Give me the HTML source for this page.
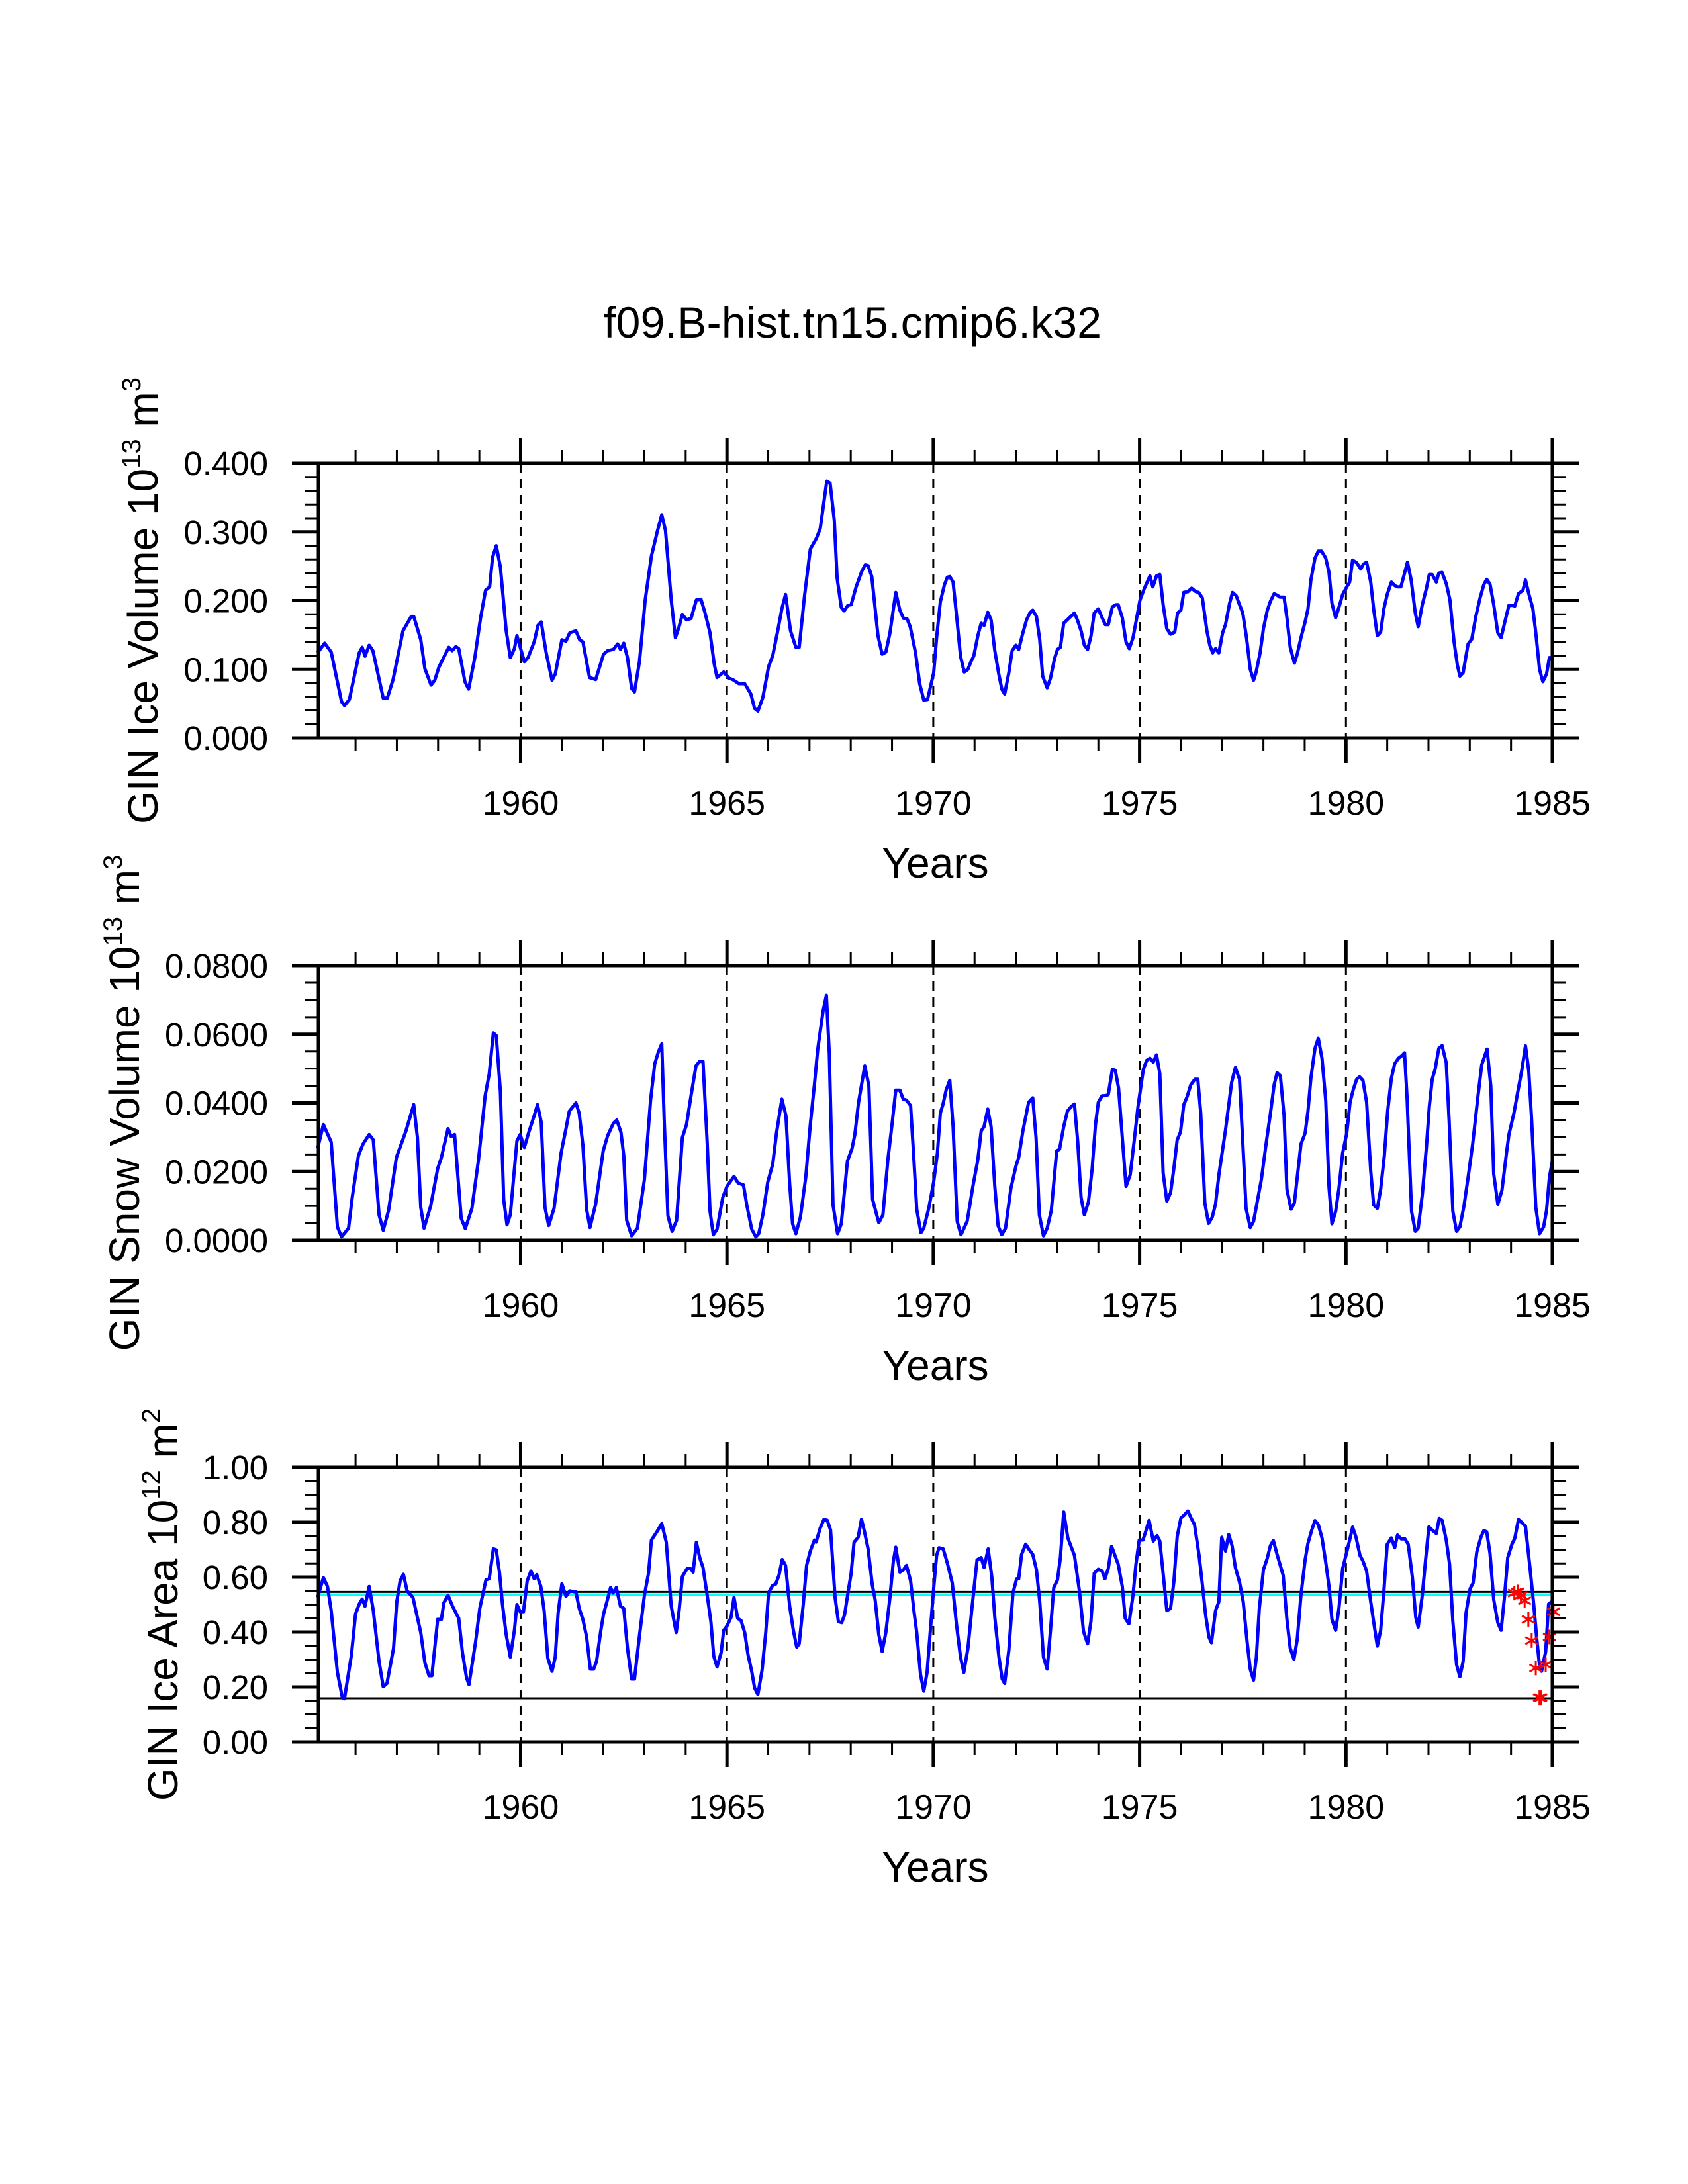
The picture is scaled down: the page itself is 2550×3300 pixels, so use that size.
<!DOCTYPE html>
<html><head><meta charset="utf-8">
<style>
html,body{margin:0;padding:0;background:#fff;}
svg{display:block;font-family:"Liberation Sans",Arial,sans-serif;}
</style></head>
<body>
<svg id="chart" width="2550" height="3300" viewBox="0 0 2550 3300" xmlns="http://www.w3.org/2000/svg">
<rect x="0" y="0" width="2550" height="3300" fill="#fff"/>
<text x="1288" y="510" font-size="66" text-anchor="middle" textLength="752">f09.B-hist.tn15.cmip6.k32</text>
</svg>
<script>
// ---- data (year, value) ----
const iceVolume = [[1955.08,0.124],[1955.25,0.138],[1955.41,0.125],[1955.66,0.053],[1955.73,0.047],[1955.85,0.056],[1956.09,0.124],[1956.16,0.132],[1956.23,0.119],[1956.33,0.135],[1956.42,0.127],[1956.67,0.058],[1956.77,0.058],[1956.91,0.085],[1957.15,0.156],[1957.35,0.177],[1957.41,0.177],[1957.58,0.143],[1957.68,0.101],[1957.83,0.077],[1957.92,0.084],[1958.02,0.103],[1958.26,0.132],[1958.34,0.127],[1958.43,0.133],[1958.50,0.130],[1958.65,0.082],[1958.74,0.071],[1958.89,0.117],[1959.03,0.175],[1959.15,0.215],[1959.25,0.220],[1959.32,0.263],[1959.41,0.280],[1959.51,0.249],[1959.65,0.156],[1959.75,0.117],[1959.85,0.130],[1959.91,0.149],[1960.09,0.111],[1960.18,0.117],[1960.33,0.140],[1960.42,0.164],[1960.50,0.169],[1960.62,0.124],[1960.76,0.084],[1960.84,0.093],[1961.00,0.143],[1961.10,0.141],[1961.19,0.153],[1961.34,0.156],[1961.43,0.143],[1961.51,0.140],[1961.67,0.088],[1961.82,0.085],[1962.01,0.122],[1962.11,0.127],[1962.25,0.129],[1962.35,0.137],[1962.42,0.129],[1962.50,0.138],[1962.59,0.117],[1962.69,0.072],[1962.76,0.067],[1962.88,0.111],[1963.02,0.201],[1963.17,0.265],[1963.31,0.300],[1963.42,0.325],[1963.51,0.302],[1963.65,0.201],[1963.75,0.146],[1963.84,0.162],[1963.92,0.180],[1964.02,0.172],[1964.13,0.174],[1964.26,0.201],[1964.37,0.202],[1964.47,0.182],[1964.59,0.153],[1964.69,0.108],[1964.76,0.088],[1964.92,0.096],[1965.05,0.087],[1965.14,0.085],[1965.29,0.079],[1965.43,0.079],[1965.58,0.064],[1965.67,0.043],[1965.75,0.039],[1965.87,0.059],[1966.01,0.104],[1966.11,0.120],[1966.25,0.162],[1966.33,0.188],[1966.42,0.209],[1966.54,0.156],[1966.67,0.132],[1966.75,0.132],[1966.88,0.207],[1967.02,0.275],[1967.17,0.291],[1967.26,0.305],[1967.42,0.374],[1967.50,0.371],[1967.60,0.317],[1967.67,0.233],[1967.77,0.190],[1967.84,0.185],[1967.93,0.193],[1968.01,0.194],[1968.13,0.220],[1968.27,0.243],[1968.35,0.252],[1968.42,0.251],[1968.51,0.235],[1968.66,0.149],[1968.76,0.122],[1968.85,0.125],[1968.95,0.153],[1969.09,0.212],[1969.19,0.186],[1969.28,0.174],[1969.36,0.174],[1969.44,0.162],[1969.57,0.124],[1969.67,0.079],[1969.77,0.055],[1969.86,0.056],[1970.01,0.095],[1970.08,0.146],[1970.17,0.198],[1970.27,0.223],[1970.34,0.234],[1970.40,0.235],[1970.48,0.227],[1970.58,0.169],[1970.66,0.119],[1970.75,0.096],[1970.84,0.100],[1970.92,0.112],[1970.98,0.119],[1971.08,0.149],[1971.16,0.167],[1971.23,0.164],[1971.32,0.183],[1971.40,0.172],[1971.49,0.127],[1971.59,0.092],[1971.66,0.071],[1971.73,0.064],[1971.83,0.095],[1971.91,0.127],[1972.00,0.135],[1972.07,0.129],[1972.17,0.153],[1972.26,0.172],[1972.34,0.182],[1972.41,0.186],[1972.50,0.177],[1972.58,0.143],[1972.65,0.090],[1972.76,0.073],[1972.84,0.087],[1972.94,0.116],[1973.01,0.129],[1973.08,0.132],[1973.16,0.167],[1973.28,0.174],[1973.42,0.182],[1973.49,0.172],[1973.58,0.156],[1973.66,0.135],[1973.74,0.129],[1973.82,0.148],[1973.90,0.182],[1974.00,0.188],[1974.09,0.175],[1974.17,0.165],[1974.24,0.165],[1974.34,0.191],[1974.43,0.194],[1974.48,0.194],[1974.58,0.175],[1974.67,0.140],[1974.75,0.130],[1974.84,0.146],[1974.93,0.175],[1975.01,0.201],[1975.11,0.217],[1975.25,0.236],[1975.32,0.220],[1975.41,0.236],[1975.49,0.238],[1975.57,0.194],[1975.66,0.159],[1975.75,0.151],[1975.85,0.154],[1975.92,0.182],[1976.00,0.186],[1976.07,0.212],[1976.17,0.213],[1976.26,0.218],[1976.36,0.213],[1976.43,0.212],[1976.52,0.204],[1976.63,0.156],[1976.70,0.135],[1976.77,0.124],[1976.84,0.130],[1976.92,0.124],[1977.01,0.153],[1977.08,0.165],[1977.18,0.196],[1977.25,0.212],[1977.34,0.207],[1977.42,0.194],[1977.50,0.182],[1977.59,0.146],[1977.68,0.100],[1977.76,0.084],[1977.82,0.095],[1977.92,0.124],[1978.00,0.159],[1978.09,0.185],[1978.17,0.199],[1978.26,0.210],[1978.33,0.208],[1978.40,0.205],[1978.50,0.205],[1978.57,0.175],[1978.65,0.132],[1978.75,0.109],[1978.82,0.122],[1978.91,0.146],[1979.01,0.169],[1979.08,0.188],[1979.15,0.230],[1979.25,0.262],[1979.33,0.272],[1979.41,0.272],[1979.51,0.262],[1979.59,0.241],[1979.66,0.196],[1979.75,0.175],[1979.85,0.194],[1979.92,0.209],[1980.02,0.220],[1980.09,0.227],[1980.16,0.259],[1980.26,0.255],[1980.36,0.246],[1980.42,0.253],[1980.50,0.256],[1980.60,0.227],[1980.67,0.188],[1980.76,0.149],[1980.84,0.154],[1980.92,0.188],[1981.00,0.209],[1981.10,0.227],[1981.18,0.222],[1981.25,0.220],[1981.33,0.220],[1981.39,0.233],[1981.49,0.256],[1981.58,0.230],[1981.68,0.182],[1981.75,0.162],[1981.85,0.194],[1981.95,0.218],[1982.02,0.238],[1982.09,0.238],[1982.19,0.227],[1982.25,0.240],[1982.33,0.241],[1982.43,0.225],[1982.52,0.201],[1982.62,0.140],[1982.70,0.106],[1982.76,0.090],[1982.84,0.095],[1982.96,0.137],[1983.05,0.144],[1983.15,0.178],[1983.25,0.204],[1983.34,0.223],[1983.41,0.231],[1983.49,0.224],[1983.58,0.194],[1983.68,0.153],[1983.76,0.146],[1983.85,0.169],[1983.95,0.193],[1984.04,0.193],[1984.09,0.192],[1984.18,0.210],[1984.29,0.215],[1984.35,0.230],[1984.43,0.210],[1984.53,0.188],[1984.60,0.153],[1984.69,0.100],[1984.77,0.082],[1984.86,0.093],[1984.93,0.117],[1985.0,0.117]];

const snowVolume = [[1955.08,0.0267],[1955.22,0.0337],[1955.41,0.0286],[1955.56,0.0039],[1955.66,0.0010],[1955.83,0.0035],[1955.92,0.0125],[1956.07,0.0247],[1956.18,0.0280],[1956.33,0.0308],[1956.43,0.0292],[1956.57,0.0074],[1956.67,0.0029],[1956.80,0.0087],[1956.99,0.0241],[1957.22,0.0318],[1957.41,0.0395],[1957.50,0.0299],[1957.58,0.0096],[1957.66,0.0035],[1957.82,0.0100],[1957.99,0.0209],[1958.08,0.0241],[1958.24,0.0325],[1958.32,0.0302],[1958.40,0.0308],[1958.56,0.0064],[1958.66,0.0034],[1958.82,0.0093],[1958.98,0.0235],[1959.14,0.0421],[1959.24,0.0485],[1959.34,0.0604],[1959.41,0.0596],[1959.51,0.0434],[1959.59,0.0119],[1959.67,0.0045],[1959.75,0.0074],[1959.91,0.0289],[1959.99,0.0308],[1960.09,0.0270],[1960.20,0.0315],[1960.33,0.0363],[1960.41,0.0395],[1960.50,0.0344],[1960.59,0.0096],[1960.68,0.0043],[1960.81,0.0093],[1960.98,0.0254],[1961.10,0.0325],[1961.18,0.0376],[1961.34,0.0400],[1961.42,0.0370],[1961.51,0.0276],[1961.60,0.0090],[1961.68,0.0037],[1961.82,0.0106],[1962.00,0.0260],[1962.11,0.0305],[1962.25,0.0341],[1962.33,0.0350],[1962.43,0.0315],[1962.50,0.0247],[1962.57,0.0058],[1962.69,0.0013],[1962.83,0.0035],[1963.00,0.0177],[1963.15,0.0408],[1963.25,0.0514],[1963.34,0.0549],[1963.42,0.0572],[1963.48,0.0350],[1963.57,0.0071],[1963.67,0.0026],[1963.78,0.0058],[1963.92,0.0299],[1964.02,0.0337],[1964.13,0.0421],[1964.25,0.0508],[1964.34,0.0521],[1964.42,0.0521],[1964.52,0.0286],[1964.59,0.0084],[1964.67,0.0016],[1964.76,0.0032],[1964.90,0.0125],[1965.00,0.0157],[1965.17,0.0186],[1965.27,0.0167],[1965.40,0.0161],[1965.48,0.0103],[1965.60,0.0032],[1965.70,0.0010],[1965.77,0.0019],[1965.87,0.0074],[1965.99,0.0170],[1966.11,0.0222],[1966.20,0.0312],[1966.33,0.0411],[1966.43,0.0363],[1966.52,0.0164],[1966.59,0.0048],[1966.67,0.0019],[1966.78,0.0067],[1966.91,0.0183],[1967.02,0.0337],[1967.12,0.0453],[1967.20,0.0556],[1967.33,0.0668],[1967.41,0.0713],[1967.48,0.0543],[1967.57,0.0103],[1967.68,0.0019],[1967.77,0.0048],[1967.92,0.0231],[1968.03,0.0267],[1968.10,0.0308],[1968.19,0.0402],[1968.34,0.0508],[1968.44,0.0450],[1968.53,0.0119],[1968.68,0.0051],[1968.78,0.0074],[1968.90,0.0235],[1969.00,0.0337],[1969.09,0.0437],[1969.19,0.0437],[1969.27,0.0411],[1969.35,0.0408],[1969.45,0.0392],[1969.53,0.0235],[1969.60,0.0090],[1969.70,0.0022],[1969.77,0.0035],[1969.89,0.0093],[1970.01,0.0170],[1970.10,0.0254],[1970.17,0.0370],[1970.24,0.0398],[1970.31,0.0437],[1970.40,0.0466],[1970.48,0.0331],[1970.58,0.0055],[1970.67,0.0016],[1970.82,0.0055],[1970.96,0.0157],[1971.08,0.0235],[1971.16,0.0318],[1971.23,0.0331],[1971.32,0.0382],[1971.40,0.0331],[1971.49,0.0157],[1971.57,0.0042],[1971.66,0.0016],[1971.75,0.0035],[1971.88,0.0151],[1972.00,0.0215],[1972.07,0.0241],[1972.17,0.0318],[1972.31,0.0402],[1972.41,0.0415],[1972.49,0.0299],[1972.57,0.0074],[1972.67,0.0013],[1972.76,0.0035],[1972.86,0.0087],[1972.99,0.0260],[1973.06,0.0265],[1973.16,0.0331],[1973.25,0.0376],[1973.34,0.0389],[1973.42,0.0397],[1973.50,0.0286],[1973.58,0.0125],[1973.66,0.0074],[1973.76,0.0112],[1973.85,0.0209],[1973.93,0.0337],[1974.00,0.0402],[1974.09,0.0421],[1974.17,0.0421],[1974.24,0.0424],[1974.34,0.0498],[1974.41,0.0495],[1974.49,0.0443],[1974.58,0.0299],[1974.67,0.0157],[1974.77,0.0190],[1974.87,0.0292],[1974.96,0.0389],[1975.09,0.0498],[1975.17,0.0524],[1975.25,0.0530],[1975.33,0.0519],[1975.41,0.0540],[1975.49,0.0485],[1975.57,0.0196],[1975.66,0.0114],[1975.75,0.0138],[1975.83,0.0209],[1975.91,0.0292],[1975.99,0.0315],[1976.07,0.0395],[1976.15,0.0418],[1976.24,0.0453],[1976.34,0.0469],[1976.41,0.0469],[1976.48,0.0370],[1976.58,0.0109],[1976.67,0.0049],[1976.76,0.0067],[1976.84,0.0106],[1976.92,0.0190],[1977.08,0.0321],[1977.23,0.0460],[1977.32,0.0503],[1977.42,0.0469],[1977.50,0.0286],[1977.58,0.0093],[1977.68,0.0037],[1977.76,0.0055],[1977.82,0.0093],[1977.95,0.0177],[1978.07,0.0286],[1978.17,0.0370],[1978.26,0.0453],[1978.33,0.0488],[1978.41,0.0479],[1978.50,0.0363],[1978.57,0.0148],[1978.67,0.0090],[1978.75,0.0109],[1978.82,0.0183],[1978.91,0.0280],[1979.01,0.0312],[1979.08,0.0376],[1979.15,0.0472],[1979.25,0.0559],[1979.33,0.0588],[1979.42,0.0530],[1979.51,0.0408],[1979.59,0.0154],[1979.66,0.0048],[1979.75,0.0084],[1979.83,0.0151],[1979.92,0.0254],[1980.02,0.0312],[1980.10,0.0402],[1980.18,0.0440],[1980.26,0.0469],[1980.33,0.0476],[1980.41,0.0466],[1980.50,0.0402],[1980.60,0.0202],[1980.67,0.0103],[1980.76,0.0093],[1980.84,0.0148],[1980.93,0.0247],[1981.01,0.0376],[1981.10,0.0472],[1981.18,0.0514],[1981.27,0.0530],[1981.35,0.0537],[1981.42,0.0546],[1981.48,0.0415],[1981.59,0.0084],[1981.68,0.0026],[1981.75,0.0035],[1981.85,0.0132],[1981.95,0.0273],[1982.02,0.0389],[1982.09,0.0469],[1982.16,0.0498],[1982.25,0.0559],[1982.33,0.0567],[1982.43,0.0517],[1982.50,0.0350],[1982.59,0.0084],[1982.68,0.0026],[1982.76,0.0039],[1982.86,0.0100],[1982.96,0.0183],[1983.07,0.0280],[1983.20,0.0421],[1983.29,0.0511],[1983.42,0.0557],[1983.51,0.0450],[1983.58,0.0193],[1983.68,0.0105],[1983.78,0.0145],[1983.89,0.0254],[1983.95,0.0308],[1984.07,0.0370],[1984.18,0.0443],[1984.26,0.0495],[1984.35,0.0566],[1984.43,0.0492],[1984.50,0.0350],[1984.60,0.0096],[1984.69,0.0019],[1984.79,0.0039],[1984.86,0.0087],[1984.93,0.0183],[1985.0,0.0230]];

const iceArea = [[1955.08,0.526],[1955.22,0.598],[1955.32,0.566],[1955.41,0.478],[1955.56,0.253],[1955.68,0.161],[1955.73,0.157],[1955.90,0.317],[1956.00,0.466],[1956.09,0.502],[1956.16,0.520],[1956.23,0.494],[1956.33,0.566],[1956.43,0.478],[1956.57,0.293],[1956.67,0.201],[1956.76,0.213],[1956.92,0.341],[1957.00,0.510],[1957.08,0.586],[1957.16,0.610],[1957.25,0.550],[1957.39,0.526],[1957.58,0.398],[1957.68,0.289],[1957.78,0.241],[1957.85,0.241],[1957.99,0.446],[1958.08,0.446],[1958.14,0.506],[1958.24,0.534],[1958.35,0.494],[1958.50,0.450],[1958.59,0.325],[1958.69,0.233],[1958.75,0.209],[1958.91,0.365],[1959.01,0.486],[1959.16,0.590],[1959.24,0.594],[1959.34,0.703],[1959.41,0.699],[1959.49,0.614],[1959.56,0.502],[1959.65,0.390],[1959.75,0.309],[1959.85,0.406],[1959.91,0.500],[1959.99,0.474],[1960.07,0.474],[1960.16,0.586],[1960.25,0.622],[1960.33,0.594],[1960.39,0.609],[1960.49,0.566],[1960.57,0.478],[1960.66,0.305],[1960.76,0.257],[1960.84,0.309],[1960.91,0.470],[1961.00,0.576],[1961.10,0.530],[1961.19,0.550],[1961.34,0.546],[1961.42,0.486],[1961.51,0.446],[1961.60,0.382],[1961.69,0.265],[1961.77,0.265],[1961.84,0.293],[1961.94,0.402],[1962.01,0.466],[1962.09,0.510],[1962.18,0.562],[1962.24,0.542],[1962.32,0.562],[1962.42,0.494],[1962.50,0.486],[1962.59,0.341],[1962.69,0.229],[1962.76,0.229],[1962.88,0.386],[1963.00,0.534],[1963.10,0.614],[1963.17,0.735],[1963.31,0.767],[1963.42,0.795],[1963.53,0.727],[1963.65,0.494],[1963.77,0.398],[1963.84,0.478],[1963.92,0.602],[1964.04,0.632],[1964.13,0.630],[1964.18,0.618],[1964.26,0.727],[1964.34,0.671],[1964.42,0.635],[1964.52,0.534],[1964.61,0.438],[1964.68,0.313],[1964.76,0.273],[1964.86,0.325],[1964.92,0.406],[1965.00,0.422],[1965.10,0.454],[1965.17,0.526],[1965.26,0.450],[1965.34,0.442],[1965.43,0.398],[1965.51,0.317],[1965.60,0.257],[1965.67,0.197],[1965.75,0.173],[1965.85,0.261],[1965.94,0.398],[1966.01,0.544],[1966.11,0.570],[1966.18,0.574],[1966.26,0.606],[1966.34,0.664],[1966.42,0.643],[1966.52,0.494],[1966.61,0.406],[1966.69,0.345],[1966.75,0.357],[1966.85,0.502],[1966.93,0.643],[1967.02,0.695],[1967.12,0.735],[1967.16,0.727],[1967.26,0.779],[1967.35,0.810],[1967.43,0.807],[1967.51,0.771],[1967.62,0.526],[1967.70,0.438],[1967.78,0.434],[1967.85,0.462],[1967.94,0.550],[1968.01,0.614],[1968.08,0.727],[1968.18,0.745],[1968.26,0.811],[1968.33,0.767],[1968.42,0.703],[1968.52,0.574],[1968.59,0.518],[1968.68,0.390],[1968.76,0.329],[1968.85,0.398],[1968.95,0.526],[1969.03,0.655],[1969.09,0.709],[1969.19,0.618],[1969.28,0.627],[1969.35,0.643],[1969.45,0.586],[1969.53,0.478],[1969.60,0.398],[1969.69,0.245],[1969.77,0.185],[1969.85,0.253],[1969.94,0.426],[1970.01,0.560],[1970.08,0.679],[1970.14,0.707],[1970.24,0.703],[1970.34,0.651],[1970.46,0.578],[1970.56,0.430],[1970.66,0.309],[1970.74,0.253],[1970.84,0.341],[1970.93,0.478],[1971.06,0.663],[1971.16,0.671],[1971.23,0.635],[1971.33,0.703],[1971.42,0.598],[1971.49,0.454],[1971.59,0.309],[1971.67,0.229],[1971.73,0.213],[1971.83,0.333],[1971.93,0.542],[1972.02,0.594],[1972.07,0.594],[1972.14,0.683],[1972.24,0.720],[1972.31,0.703],[1972.41,0.683],[1972.50,0.627],[1972.58,0.510],[1972.67,0.309],[1972.76,0.265],[1972.84,0.406],[1972.92,0.562],[1973.01,0.590],[1973.08,0.671],[1973.16,0.837],[1973.26,0.743],[1973.42,0.679],[1973.54,0.550],[1973.64,0.402],[1973.74,0.357],[1973.82,0.438],[1973.90,0.614],[1974.00,0.629],[1974.09,0.622],[1974.16,0.594],[1974.24,0.631],[1974.32,0.712],[1974.48,0.647],[1974.58,0.566],[1974.65,0.450],[1974.74,0.430],[1974.84,0.534],[1974.91,0.647],[1974.99,0.735],[1975.08,0.735],[1975.15,0.767],[1975.23,0.807],[1975.33,0.731],[1975.42,0.751],[1975.49,0.731],[1975.59,0.582],[1975.66,0.478],[1975.75,0.486],[1975.83,0.582],[1975.91,0.747],[1976.00,0.815],[1976.09,0.827],[1976.17,0.841],[1976.24,0.817],[1976.33,0.791],[1976.44,0.679],[1976.52,0.574],[1976.60,0.462],[1976.68,0.382],[1976.74,0.361],[1976.84,0.478],[1976.92,0.510],[1976.99,0.745],[1977.08,0.695],[1977.16,0.755],[1977.24,0.715],[1977.32,0.635],[1977.42,0.582],[1977.51,0.510],[1977.61,0.357],[1977.68,0.265],[1977.76,0.225],[1977.83,0.309],[1977.90,0.486],[1978.00,0.627],[1978.09,0.667],[1978.17,0.715],[1978.24,0.733],[1978.33,0.683],[1978.48,0.606],[1978.57,0.446],[1978.65,0.341],[1978.74,0.301],[1978.82,0.373],[1978.91,0.534],[1979.01,0.663],[1979.08,0.723],[1979.17,0.771],[1979.25,0.806],[1979.33,0.791],[1979.42,0.743],[1979.51,0.655],[1979.59,0.566],[1979.66,0.446],[1979.75,0.406],[1979.83,0.486],[1979.92,0.631],[1980.02,0.691],[1980.09,0.735],[1980.16,0.782],[1980.24,0.747],[1980.34,0.679],[1980.41,0.659],[1980.50,0.622],[1980.60,0.510],[1980.67,0.438],[1980.76,0.349],[1980.84,0.406],[1980.92,0.550],[1981.00,0.719],[1981.10,0.743],[1981.18,0.707],[1981.25,0.753],[1981.34,0.739],[1981.43,0.739],[1981.51,0.719],[1981.61,0.598],[1981.69,0.454],[1981.75,0.418],[1981.85,0.534],[1981.93,0.663],[1982.01,0.783],[1982.09,0.771],[1982.19,0.759],[1982.26,0.814],[1982.33,0.807],[1982.43,0.735],[1982.51,0.647],[1982.59,0.438],[1982.68,0.281],[1982.76,0.237],[1982.84,0.293],[1982.91,0.470],[1983.01,0.558],[1983.08,0.578],[1983.17,0.691],[1983.27,0.745],[1983.34,0.769],[1983.41,0.765],[1983.49,0.687],[1983.58,0.518],[1983.68,0.434],[1983.76,0.406],[1983.84,0.526],[1983.92,0.671],[1984.02,0.719],[1984.09,0.741],[1984.18,0.810],[1984.26,0.799],[1984.35,0.785],[1984.45,0.647],[1984.55,0.502],[1984.62,0.382],[1984.69,0.277],[1984.74,0.257],[1984.84,0.329],[1984.91,0.502],[1984.98,0.510]];

const markerYears  = [1984.08,1984.16,1984.24,1984.33,1984.42,1984.50,1984.60,1984.69,1984.72,1984.84,1984.93,1985.03];
const markerValues = [0.542,0.546,0.534,0.514,0.446,0.369,0.269,0.161,0.161,0.281,0.382,0.474];
const refLineValues = [0.546, 0.159];   // black reference lines
const cyanLineValue = 0.536;

const yearTicks = [1960,1965,1970,1975,1980,1985];
const volTicks = ["0.000","0.100","0.200","0.300","0.400"];
const snowTicks = ["0.0000","0.0200","0.0400","0.0600","0.0800"];
const areaTicks = ["0.00","0.20","0.40","0.60","0.80","1.00"];

// ---- layout ----
const NS = "http://www.w3.org/2000/svg";
const svg = document.getElementById('chart');
const X0 = 481, X1 = 2345, T0 = 1955.1, T1 = 1985.0;
function xPos(t){ return X0 + (t - T0) * (X1 - X0) / (T1 - T0); }
function mk(tag, attrs, parent){
  const e = document.createElementNS(NS, tag);
  for (const k in attrs) e.setAttribute(k, attrs[k]);
  (parent || svg).appendChild(e);
  return e;
}

const panels = [
  {key:'ice-volume', top:700, ymax:0.4, ticks:volTicks, minor:0.02, data:iceVolume, title:'GIN Ice Volume 10', sup1:'13', unit:' m', sup2:'3', tx:238},
  {key:'snow-volume', top:1459, ymax:0.08, ticks:snowTicks, minor:0.005, data:snowVolume, title:'GIN Snow Volume 10', sup1:'13', unit:' m', sup2:'3', tx:210},
  {key:'ice-area', top:2217, ymax:1.0, ticks:areaTicks, minor:0.05, data:iceArea, title:'GIN Ice Area 10', sup1:'12', unit:' m', sup2:'2', tx:268}
];
const H = 415;

panels.forEach(function(p, pi){
  const bottom = p.top + H;
  const yPos = function(v){ return bottom - v / p.ymax * H; };
  const g = mk('g', {});
  
  

  [1960,1965,1970,1975,1980].forEach(function(yr){
    const l = mk('line', {x1:xPos(yr), x2:xPos(yr), y1:p.top, y2:bottom, stroke:'#000', 'stroke-width':3, 'stroke-dasharray':'14 10'}, g);
    
    
  });

  if (pi === 2) {
    refLineValues.forEach(function(v, i){
      const l = mk('line', {x1:X0, x2:X1, y1:yPos(v), y2:yPos(v), stroke:'#000', 'stroke-width':3}, g);
      
      
    });
    const c = mk('line', {x1:X0, x2:X1, y1:yPos(cyanLineValue), y2:yPos(cyanLineValue), stroke:'#00ffff', 'stroke-width':4}, g);
    
    
  }

  let d = '';
  p.data.forEach(function(pt, i){ d += (i ? 'L' : 'M') + xPos(pt[0]).toFixed(1) + ' ' + yPos(pt[1]).toFixed(1); });
  const path = mk('path', {d:d, fill:'none', stroke:'#0000ff', 'stroke-width':5, 'stroke-linejoin':'round'}, g);
  
  

  if (pi === 2) {
    markerYears.forEach(function(t, i){
      const cx = xPos(t), cy = yPos(markerValues[i]), r = 11;
      let md = '';
      [0,60,120].forEach(function(a){
        const rad = (a + 90) * Math.PI / 180;
        const dx = r * Math.cos(rad), dy = r * Math.sin(rad);
        md += 'M' + (cx - dx) + ' ' + (cy - dy) + 'L' + (cx + dx) + ' ' + (cy + dy);
      });
      const m = mk('path', {d:md, stroke:'#ff0000', 'stroke-width':3, fill:'none'}, g);
      
      
    });
  }

  const fr = mk('rect', {x:X0, y:p.top, width:X1 - X0, height:H, fill:'none', stroke:'#000', 'stroke-width':5}, g);
  
  

  for (let yr = 1956; yr <= 1985; yr++) {
    const x = xPos(yr), major = (yr % 5 === 0), len = major ? 38 : 20, w = major ? 5 : 3;
    mk('line', {x1:x, x2:x, y1:p.top, y2:p.top - len, stroke:'#000', 'stroke-width':w}, g);
    mk('line', {x1:x, x2:x, y1:bottom, y2:bottom + len, stroke:'#000', 'stroke-width':w}, g);
  }
  yearTicks.forEach(function(yr){
    const t = mk('text', {x:xPos(yr), y:bottom + 116, 'font-size':52, 'text-anchor':'middle'}, g);
    t.textContent = yr;
    
    
  });
  const xt = mk('text', {x:1413, y:bottom + 211, 'font-size':64, 'text-anchor':'middle'}, g);
  xt.textContent = 'Years';
  
  

  const nMinor = Math.round(p.ymax / p.minor);
  for (let i = 0; i <= nMinor; i++) {
    const v = i * p.minor, y = yPos(v);
    const major = (i % Math.round(nMinor / (p.ticks.length - 1)) === 0);
    const len = major ? 40 : 20, w = major ? 5 : 3;
    mk('line', {x1:X0, x2:X0 - len, y1:y, y2:y, stroke:'#000', 'stroke-width':w}, g);
    mk('line', {x1:X1, x2:X1 + len, y1:y, y2:y, stroke:'#000', 'stroke-width':w}, g);
  }
  p.ticks.forEach(function(lbl, i){
    const v = i * p.ymax / (p.ticks.length - 1);
    const t = mk('text', {x:405, y:yPos(v) + 18, 'font-size':51, 'text-anchor':'end'}, g);
    t.textContent = lbl;
    
    
  });

  const cy = p.top + H / 2;
  const yt = mk('text', {x:0, y:0, 'font-size':64, 'text-anchor':'middle', transform:'translate(' + p.tx + ',' + cy + ') rotate(-90)'}, g);
  
  
  const s0 = mk('tspan', {}, yt); s0.textContent = p.title;
  const s1 = mk('tspan', {dy:-26, 'font-size':40}, yt); s1.textContent = p.sup1;
  const s2 = mk('tspan', {dy:26}, yt); s2.textContent = p.unit;
  const s3 = mk('tspan', {dy:-26, 'font-size':40}, yt); s3.textContent = p.sup2;
});
</script>
</body></html>
